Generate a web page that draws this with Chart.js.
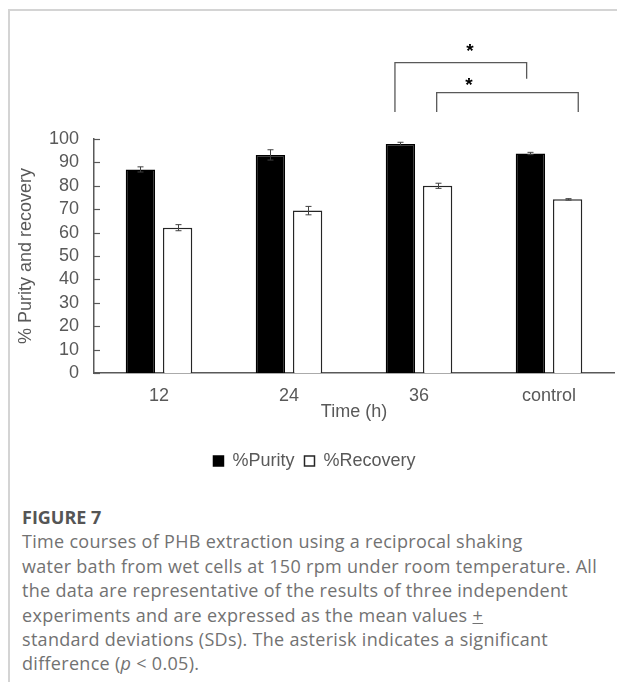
<!DOCTYPE html>
<html>
<head>
<meta charset="utf-8">
<script src="https://cdn.jsdelivr.net/npm/chart.js@4.4.0/dist/chart.umd.min.js"></script>
<style>
html,body{margin:0;padding:0;background:#fff;width:617px;height:682px;overflow:hidden;}
#frame{position:absolute;left:8px;top:9px;width:609px;height:673px;border-top:2px solid #d4d4d4;border-left:2px solid #d4d4d4;box-sizing:border-box;}
#wrap{position:absolute;left:0;top:0;width:617px;height:490px;}
#caption{position:absolute;left:22px;top:505px;font-family:"Open Sans","Noto Sans",sans-serif;font-size:18px;letter-spacing:0.3px;line-height:24.4px;color:#727272;white-space:nowrap;}
#caption b{color:#555;font-weight:700;letter-spacing:0;}
</style>
</head>
<body>
<div id="frame"></div>
<div id="wrap"><canvas id="c" width="617" height="490"></canvas></div>
<div id="caption"><b>FIGURE 7</b><br>Time courses of PHB extraction using a reciprocal shaking<br>water bath from wet cells at 150 rpm under room temperature. All<br>the data are representative of the results of three independent<br>experiments and are expressed as the mean values <u>+</u><br>standard deviations (SDs). The asterisk indicates a significant<br>difference (<i>p</i> &lt; 0.05).</div>
<script>
const categories = ['12', '24', '36', 'control'];
const purity = [87.0, 93.2, 97.9, 93.8];
const recovery = [62.1, 69.4, 80.0, 74.2];
const puritySD = [1.1, 2.2, 0.7, 0.5];
const recoverySD = [1.3, 1.8, 1.1, 0.3];
const yTicks = [0, 10, 20, 30, 40, 50, 60, 70, 80, 90, 100];

// significance brackets, in axis units (x: category index, y: % value)
const brackets = [
  {x1: 1.815, x2: 2.828, yTop: 132.6, y1: 111.5, y2: 125.8, starX: 2.392, starY: 139.7},
  {x1: 2.136, x2: 3.225, yTop: 119.8, y1: 111.5, y2: 111.5, starX: 2.385, starY: 125.1}
];

const FONT = '"Liberation Sans", Arial, sans-serif';
const AXIS = '#595959';

const extras = {
  id: 'extras',
  afterDatasetsDraw(chart) {
    const ctx = chart.ctx, xs = chart.scales.x, ys = chart.scales.y;
    ctx.save();
    // error bars
    ctx.strokeStyle = '#404040';
    ctx.lineWidth = 1;
    [[0, puritySD], [1, recoverySD]].forEach(([di, sd]) => {
      const meta = chart.getDatasetMeta(di);
      const vals = chart.data.datasets[di].data;
      meta.data.forEach((bar, i) => {
        const yt = ys.getPixelForValue(vals[i] + sd[i]);
        const yb = ys.getPixelForValue(vals[i] - sd[i]);
        const xc = Math.round(bar.x) + 0.5;
        ctx.beginPath();
        ctx.moveTo(xc, yt); ctx.lineTo(xc, yb);
        ctx.moveTo(xc - 3, yt); ctx.lineTo(xc + 3, yt);
        ctx.moveTo(xc - 3, yb); ctx.lineTo(xc + 3, yb);
        ctx.stroke();
      });
    });
    // inside ticks on y axis
    ctx.strokeStyle = AXIS;
    ctx.lineWidth = 1.2;
    const left = chart.chartArea.left;
    yTicks.forEach(t => {
      const yp = Math.round(ys.getPixelForValue(t)) + 0.5;
      ctx.beginPath(); ctx.moveTo(left, yp); ctx.lineTo(left + 6, yp); ctx.stroke();
    });
    // significance brackets
    ctx.strokeStyle = AXIS;
    ctx.lineWidth = 1.3;
    brackets.forEach(b => {
      const X1 = xs.getPixelForValue(b.x1), X2 = xs.getPixelForValue(b.x2);
      const T = ys.getPixelForValue(b.yTop);
      ctx.beginPath();
      ctx.moveTo(X1, ys.getPixelForValue(b.y1));
      ctx.lineTo(X1, T);
      ctx.lineTo(X2, T);
      ctx.lineTo(X2, ys.getPixelForValue(b.y2));
      ctx.stroke();
      ctx.fillStyle = '#000';
      ctx.font = 'bold 19px ' + FONT;
      ctx.textAlign = 'center';
      ctx.textBaseline = 'alphabetic';
      ctx.fillText('*', xs.getPixelForValue(b.starX), ys.getPixelForValue(b.starY) + 10.5);
    });
    ctx.restore();
  }
};

new Chart(document.getElementById('c'), {
  type: 'bar',
  data: {
    labels: categories,
    datasets: [
      {label: '%Purity', data: purity, backgroundColor: '#000', borderColor: '#000', borderWidth: 1.5},
      {label: '%Recovery', data: recovery, backgroundColor: '#fff', borderColor: '#262626', borderWidth: 1.5}
    ]
  },
  options: {
    responsive: false,
    animation: false,
    devicePixelRatio: 1,
    categoryPercentage: 0.572,
    barPercentage: 0.79,
    layout: {padding: {top: 139, left: 15, right: 3, bottom: 10}},
    plugins: {
      tooltip: {enabled: false},
      legend: {
        position: 'bottom',
        labels: {boxWidth: 10, boxHeight: 10, padding: 10, color: AXIS, font: {family: FONT, size: 18}}
      }
    },
    scales: {
      x: {
        grid: {display: false, drawTicks: false},
        border: {display: true, color: AXIS, width: 1.5},
        ticks: {color: AXIS, padding: 12, font: {family: FONT, size: 18}},
        title: {display: true, text: 'Time (h)', color: AXIS, font: {family: FONT, size: 18}, padding: {top: 0, bottom: 19}},
        afterFit(s) { s.height = 69; }
      },
      y: {
        min: 0, max: 100,
        grid: {display: false, drawTicks: false},
        border: {display: true, color: AXIS, width: 1.5},
        ticks: {stepSize: 10, autoSkip: false, color: AXIS, padding: 15, font: {family: FONT, size: 18}},
        afterBuildTicks(s) { s.ticks = yTicks.map(v => ({value: v})); },
        title: {display: true, text: '% Purity and recovery', color: AXIS, font: {family: FONT, size: 18}, padding: 0},
        afterFit(s) { s.width = 79; }
      }
    }
  },
  plugins: [extras]
});
</script>
</body>
</html>
